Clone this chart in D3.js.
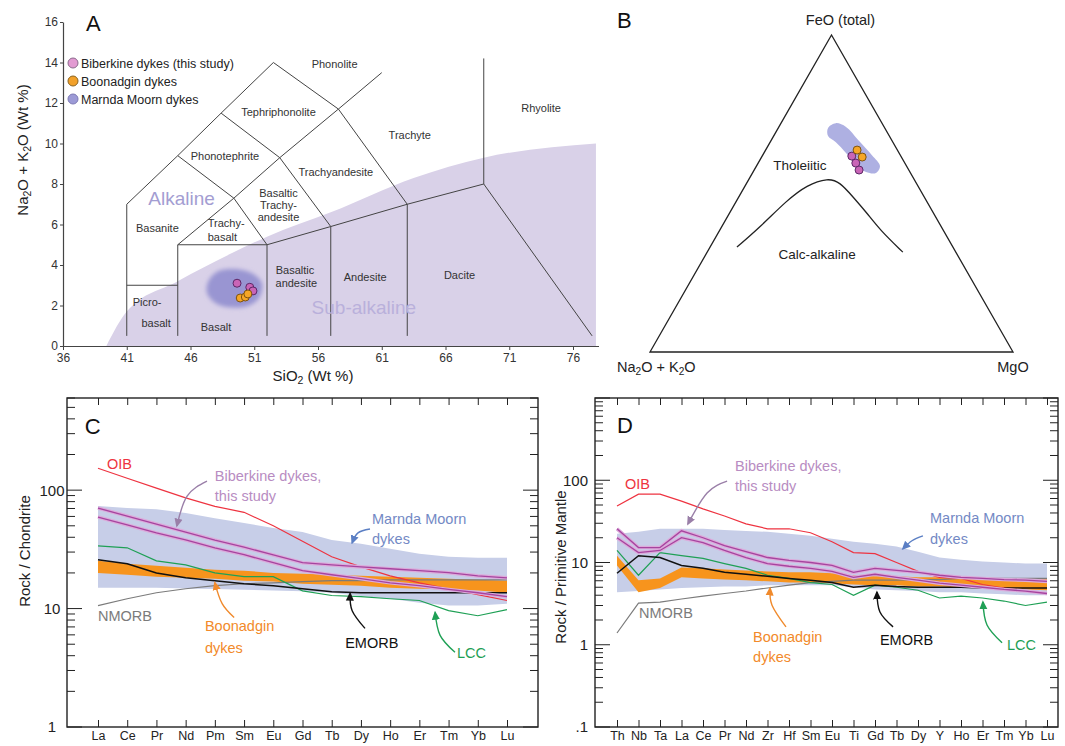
<!DOCTYPE html>
<html>
<head>
<meta charset="utf-8">
<script src="https://cdn.jsdelivr.net/npm/d3@7"></script>
<style>
body { margin: 0; background: #fff; }
</style>
</head>
<body>
<script>
// ---------------- data ----------------
// A: TAS diagram (SiO2 wt%, Na2O+K2O wt%)
var tasTicksX = [36, 41, 46, 51, 56, 61, 66, 71, 76];
var tasTicksY = [0, 2, 4, 6, 8, 10, 12, 14, 16];
var tasFieldLines = [
	[[41, 0.5], [41, 7], [45, 9.4], [48.4, 11.5], [52.5, 14], [57.6, 11.7], [63, 7]],
	[[41, 3], [45, 3]],
	[[45, 0.5], [45, 5], [52, 5], [52, 0.5]],
	[[45, 5], [49.4, 7.3], [52, 5]],
	[[45, 9.4], [49.4, 7.3], [53, 9.3], [57.6, 11.7], [61, 13.5]],
	[[48.4, 11.5], [53, 9.3], [57, 5.9]],
	[[52, 5], [57, 5.9], [63, 7], [69, 8], [77.5, 0.5]],
	[[57, 0.5], [57, 5.9]],
	[[63, 0.5], [63, 7]],
	[[69, 8], [69, 14.2]]
];
var subAlkalineEdge = [[39.4, 0], [41, 1.7], [45, 3.2], [49.3, 4.6], [52, 5.4], [57, 6.6], [63.5, 8.3], [69, 9.3], [77.8, 10.0]];
var marndaTAS = [[47.4, 3.2], [48.2, 3.7], [49.5, 3.8], [50.8, 3.6], [51.6, 3.1], [51.4, 2.4], [50.6, 2.0], [49.3, 1.9], [48.0, 2.1], [47.3, 2.6]];
var biberkineTAS = [[49.65, 3.1], [50.65, 2.9], [50.9, 2.72]];
var boonadginTAS = [[49.9, 2.37], [50.3, 2.42], [50.5, 2.57]];
var tasNames = [
	["Phonolite", 57.3, 13.9], ["Tephriphonolite", 52.9, 11.56], ["Phonotephrite", 48.7, 9.38],
	["Trachyte", 63.2, 10.4], ["Trachyandesite", 57.4, 8.6], ["Rhyolite", 73.5, 11.75],
	["Basaltic", 52.9, 7.56], ["Trachy-", 52.9, 6.96], ["andesite", 52.9, 6.37],
	["Basanite", 43.4, 5.83], ["Trachy-", 48.8, 6.07], ["basalt", 48.5, 5.38],
	["Basaltic", 54.2, 3.75], ["andesite", 54.3, 3.11], ["Andesite", 59.7, 3.41], ["Dacite", 67.1, 3.5],
	["Picro-", 42.6, 2.17], ["basalt", 43.3, 1.14], ["Basalt", 48.0, 0.94]
];
var legendA = ["Biberkine dykes (this study)", "Boonadgin dykes", "Marnda Moorn dykes"];

// B: AFM ternary, points as [FeO, Na2O+K2O, MgO] in %
var calcAlkalineLine = [[33.1, 59.5, 7.4], [39.4, 50.0, 10.6], [47.9, 38.3, 13.8], [52.7, 30.4, 16.9], [54.9, 23.5, 21.6], [53.6, 20.9, 25.5], [48.9, 19.6, 31.5], [43.8, 18.3, 37.9], [38.5, 17.4, 44.1], [31.5, 14.6, 53.9]];
var marndaAFM = [[70.7, 15.6, 13.7], [72.2, 12.7, 15.1], [71.0, 10.5, 18.5], [66.9, 9.2, 23.9], [62.1, 7.8, 30.1], [58.7, 7.3, 34.0], [56.5, 9.5, 34.0], [56.8, 12.1, 31.1], [59.0, 13.8, 27.2], [62.8, 14.6, 22.6], [66.2, 15.7, 18.1], [68.1, 16.9, 15.0]];
var biberkineAFM = [[61.8, 13.5, 24.7], [59.6, 13.5, 26.9], [57.4, 13.7, 28.9]];
var boonadginAFM = [[63.7, 11.1, 25.2], [61.5, 10.8, 27.7]];

// C: chondrite-normalised REE
var reeC = ["La", "Ce", "Pr", "Nd", "Pm", "Sm", "Eu", "Gd", "Tb", "Dy", "Ho", "Er", "Tm", "Yb", "Lu"];
var oibC = [153, 126, 104, 86, 73, 65, 50, 37, 27.4, 22.5, 18.9, 16.5, 14.7, 13.1, 11.7];
var emorbC = [25.8, 23.9, 20.0, 18.2, 17.2, 16.2, 15.6, 14.7, 13.9, 13.6, 13.6, 13.6, 13.6, 13.6, 13.6];
var nmorbC = [10.6, 12.1, 13.6, 14.7, 15.6, 16.2, 16.5, 16.9, 17.2, 17.2, 17.5, 17.5, 17.5, 17.5, 17.5];
var lccC = [33.8, 32.6, 25.3, 23.4, 20.0, 18.6, 18.6, 14.1, 12.9, 12.6, 12.1, 11.7, 9.6, 8.7, 9.8];
var biberkineC1 = [70.6, 60.4, 51.7, 44.3, 37.9, 33.0, 28.4, 24.4, 23.4, 22.5, 21.7, 20.9, 20.1, 18.9, 18.2];
var biberkineC2 = [59.3, 50.8, 43.5, 38.0, 32.5, 28.5, 24.4, 20.9, 19.3, 17.9, 16.5, 15.6, 14.5, 13.6, 12.6];
var boonadginCHi = [25.3, 23.9, 23.0, 22.1, 21.3, 20.9, 20.0, 19.7, 19.3, 18.9, 18.6, 18.2, 17.9, 17.5, 17.2];
var boonadginCLo = [20.0, 19.3, 18.6, 18.2, 17.9, 17.2, 16.9, 16.2, 15.9, 15.6, 15.0, 14.7, 14.5, 14.2, 13.6];
var marndaCHi = [73.4, 70.6, 69, 64, 58, 52.8, 48, 44.4, 38, 35.2, 32, 29, 27.4, 26.8, 26.8];
var marndaCLo = [15, 15, 15, 14.8, 14.6, 14.4, 14.2, 14, 13.6, 12.8, 12.1, 11.2, 10.6, 10.6, 11.0];
var tickLabelsC = [[100, "100"], [10, "10"], [1, "1"]];

// D: primitive-mantle-normalised trace elements
var traceD = ["Th", "Nb", "Ta", "La", "Ce", "Pr", "Nd", "Zr", "Hf", "Sm", "Eu", "Ti", "Gd", "Tb", "Dy", "Y", "Ho", "Er", "Tm", "Yb", "Lu"];
var oibD = [48.6, 67.8, 67.8, 55.8, 44.8, 36.8, 29.5, 25.7, 25.7, 23.0, 17.9, 13.2, 12.8, 10.0, 7.8, 6.6, 6.4, 5.4, 4.9, 4.5, 4.2];
var emorbD = [7.4, 12.1, 11.5, 9.2, 8.5, 7.6, 7.2, 6.8, 6.4, 6.1, 5.7, 5.0, 5.3, 5.1, 5.0, 5.0, 5.0, 4.9, 4.9, 4.9, 4.9];
var nmorbD = [1.39, 3.2, 3.3, 3.6, 3.9, 4.2, 4.5, 4.9, 5.3, 5.7, 5.9, 6.1, 6.1, 6.1, 6.2, 6.2, 6.4, 6.4, 6.4, 6.4, 6.4];
var lccD = [14.0, 7.0, 13.2, 12.1, 11.2, 9.7, 8.5, 7.0, 6.4, 5.7, 5.4, 4.0, 5.3, 5.0, 4.6, 3.7, 3.9, 3.7, 3.4, 3.0, 3.3];
var biberkineD1 = [25.7, 15.2, 15.2, 24.3, 20.0, 16.0, 13.6, 11.5, 10.6, 10.0, 9.2, 7.6, 8.5, 8.0, 7.6, 7.0, 6.6, 6.4, 6.2, 6.1, 5.9];
var biberkineD2 = [20.0, 13.2, 14.0, 20.0, 17.4, 14.0, 11.5, 9.7, 9.0, 8.5, 7.8, 6.6, 7.2, 6.6, 6.1, 5.6, 5.3, 5.0, 4.7, 4.5, 4.2];
var boonadginDHi = [12.1, 6.1, 6.4, 8.7, 8.5, 8.2, 8.0, 7.8, 7.6, 7.6, 7.4, 7.0, 6.8, 6.8, 6.6, 6.6, 6.6, 6.6, 6.4, 6.4, 6.4];
var boonadginDLo = [9.2, 4.35, 4.9, 6.6, 6.4, 6.2, 6.1, 5.9, 5.7, 5.7, 5.6, 5.4, 5.3, 5.3, 5.1, 5.1, 5.0, 4.9, 4.7, 4.7, 4.6];
var marndaDHi = [22.3, 23.6, 25.7, 25.7, 25.7, 24.9, 24.2, 23.6, 22.3, 21.1, 19.4, 17.9, 16.9, 15.6, 13.5, 11.5, 10.8, 10.3, 10.0, 9.7, 9.7];
var marndaDLo = [4.35, 4.5, 4.7, 4.9, 5.0, 5.1, 5.1, 5.3, 5.3, 5.3, 5.3, 5.0, 4.7, 4.6, 4.5, 4.35, 4.35, 4.2, 4.1, 4.0, 4.0];
var tickLabelsD = [[100, "100"], [10, "10"], [1, "1"], [0.1, ".1"]];

// ---------------- setup ----------------
var FONT = "'Liberation Sans', Arial, Helvetica, sans-serif";
var C_OIB = "#ee3340", C_BIB = "#a6449f", C_BIBTXT = "#b88cc2", C_MM = "#c7cee8", C_MMTXT = "#7389c5",
	C_BOON = "#f7941d", C_LCC = "#1fa055", C_NM = "#7b7b7b";

var svg = d3.select("body").append("svg")
	.attr("width", 1065).attr("height", 746)
	.style("font-family", FONT);
var defs = svg.append("defs");
defs.append("filter").attr("id", "soft").attr("x", "-20%").attr("y", "-20%").attr("width", "140%").attr("height", "140%")
	.append("feGaussianBlur").attr("stdDeviation", 2.2);

function arrowMarker(id, color) {
	defs.append("marker").attr("id", id)
		.attr("viewBox", "0 0 10 10").attr("refX", 8).attr("refY", 5)
		.attr("markerWidth", 9).attr("markerHeight", 9)
		.attr("markerUnits", "userSpaceOnUse").attr("orient", "auto")
		.append("path").attr("d", "M0,0.5 L10,5 L0,9.5 Z").attr("fill", color);
}

function subText(sel, parts) {
	// parts: [text, isSub, backUp]
	parts.forEach(function(p) {
		var t = sel.append("tspan").text(p[0]);
		if (p[1]) t.attr("dy", 3).attr("font-size", "0.7em");
		else if (p[2]) t.attr("dy", -3);
	});
}

/*
 A: TAS
*/
var xA = d3.scaleLinear().domain([36, 78]).range([63, 598.5]);
var yA = d3.scaleLinear().domain([0, 16]).range([346, 22]);
var gA = svg.append("g");
var lineA = d3.line().x(function(d) { return xA(d[0]); }).y(function(d) { return yA(d[1]); });

gA.append("path").datum(subAlkalineEdge)
	.attr("d", d3.area().x(function(d) { return xA(d[0]); }).y0(yA(0)).y1(function(d) { return yA(d[1]); }).curve(d3.curveMonotoneX))
	.attr("fill", "#d9d1e8");
gA.append("path").datum(marndaTAS)
	.attr("d", lineA.curve(d3.curveCatmullRomClosed))
	.attr("fill", "#9995d2").attr("filter", "url(#soft)");
lineA.curve(d3.curveLinear);

gA.selectAll("path.field").data(tasFieldLines).enter().append("path")
	.attr("class", "field").attr("d", lineA)
	.attr("fill", "none").attr("stroke", "#444").attr("stroke-width", 1);

gA.append("text").attr("x", xA(45.3)).attr("y", yA(7.3)).attr("dy", "0.35em")
	.attr("text-anchor", "middle").attr("font-size", 19).attr("fill", "#a39dd2").text("Alkaline");
gA.append("text").attr("x", xA(59.6)).attr("y", yA(1.93)).attr("dy", "0.35em")
	.attr("text-anchor", "middle").attr("font-size", 19).attr("fill", "#b9b0db").text("Sub-alkaline");

gA.selectAll("text.rock").data(tasNames).enter().append("text")
	.attr("class", "rock")
	.attr("x", function(d) { return xA(d[1]); }).attr("y", function(d) { return yA(d[2]); })
	.attr("dy", "0.35em").attr("text-anchor", "middle")
	.attr("font-size", 11).attr("fill", "#333").text(function(d) { return d[0]; });

gA.selectAll("circle.bib").data(biberkineTAS).enter().append("circle")
	.attr("cx", function(d) { return xA(d[0]); }).attr("cy", function(d) { return yA(d[1]); })
	.attr("r", 4).attr("fill", "#c965b6").attr("stroke", "#5c2767").attr("stroke-width", 1);
gA.selectAll("circle.boon").data(boonadginTAS).enter().append("circle")
	.attr("cx", function(d) { return xA(d[0]); }).attr("cy", function(d) { return yA(d[1]); })
	.attr("r", 4).attr("fill", "#f6a626").attr("stroke", "#7d5210").attr("stroke-width", 1);

var axA = gA.append("g").attr("transform", "translate(" + xA(36) + ",0)")
	.call(d3.axisLeft(yA).tickValues(tasTicksY).tickSize(3).tickSizeOuter(0).tickPadding(2));
var axAx = gA.append("g").attr("transform", "translate(0," + yA(0) + ")")
	.call(d3.axisBottom(xA).tickValues(tasTicksX).tickSize(4).tickSizeOuter(0).tickPadding(3));
[axA, axAx].forEach(function(a) {
	a.attr("font-family", FONT).attr("font-size", 12);
	a.select(".domain").attr("stroke", "#444").attr("stroke-width", 1.2);
	a.selectAll(".tick line").attr("stroke", "#444");
	a.selectAll(".tick text").attr("fill", "#333");
});

gA.append("text").attr("x", 86).attr("y", 31).attr("font-size", 22).attr("fill", "#111").text("A");

var legColors = [["#e29ad2", "#8a6a8c"], ["#f2a12a", "#8a6420"], ["#9c9ad6", "#7d7ab5"]];
legendA.forEach(function(t, i) {
	var y = 63 + i * 18;
	gA.append("circle").attr("cx", 73).attr("cy", y).attr("r", 5)
		.attr("fill", legColors[i][0]).attr("stroke", legColors[i][1]).attr("stroke-width", 1);
	gA.append("text").attr("x", 81).attr("y", y + 4.5).attr("font-size", 12.5).attr("fill", "#222").text(t);
});

var tA = gA.append("text").attr("x", 313).attr("y", 381).attr("text-anchor", "middle")
	.attr("font-size", 15).attr("fill", "#222");
subText(tA, [["SiO"], ["2", true], [" (Wt %)", false, true]]);
var tAy = gA.append("text").attr("transform", "translate(28,150) rotate(-90)").attr("text-anchor", "middle")
	.attr("font-size", 15).attr("fill", "#222");
subText(tAy, [["Na"], ["2", true], ["O + K", false, true], ["2", true], ["O (Wt %)", false, true]]);

/*
 B: AFM ternary
*/
var tY = d3.scaleLinear().domain([0, 1]).range([352, 35]);
var tX = d3.scaleLinear().domain([0, 1]).range([650, 1013]);
function tern(d) {
	var s = d[0] + d[1] + d[2], F = d[0] / s, M = d[2] / s;
	return [tX(M + F / 2), tY(F)];
}
var gB = svg.append("g");
var lineB = d3.line().x(function(d) { return tern(d)[0]; }).y(function(d) { return tern(d)[1]; });

gB.append("path").datum([[100, 0, 0], [0, 100, 0], [0, 0, 100]])
	.attr("d", function(d) { return lineB(d) + "Z"; })
	.attr("fill", "none").attr("stroke", "#222").attr("stroke-width", 1.3);
gB.append("path").datum(marndaAFM)
	.attr("d", lineB.curve(d3.curveCatmullRomClosed))
	.attr("fill", "#a5a7df").attr("opacity", 0.9);
lineB.curve(d3.curveBasis);
gB.append("path").datum(calcAlkalineLine).attr("d", lineB)
	.attr("fill", "none").attr("stroke", "#222").attr("stroke-width", 1.3);

gB.selectAll("circle.bib").data(biberkineAFM).enter().append("circle")
	.attr("cx", function(d) { return tern(d)[0]; }).attr("cy", function(d) { return tern(d)[1]; })
	.attr("r", 4).attr("fill", "#c965b6").attr("stroke", "#5c2767");
gB.selectAll("circle.boon").data(boonadginAFM).enter().append("circle")
	.attr("cx", function(d) { return tern(d)[0]; }).attr("cy", function(d) { return tern(d)[1]; })
	.attr("r", 4).attr("fill", "#f6a626").attr("stroke", "#7d5210");

gB.append("text").attr("x", 617).attr("y", 28).attr("font-size", 22).attr("fill", "#111").text("B");
gB.append("text").attr("x", tX(0.5) + 9).attr("y", 25).attr("text-anchor", "middle")
	.attr("font-size", 14.5).attr("fill", "#222").text("FeO (total)");
var nk = gB.append("text").attr("x", 617).attr("y", 372).attr("font-size", 14.5).attr("fill", "#222");
subText(nk, [["Na"], ["2", true], ["O + K", false, true], ["2", true], ["O", false, true]]);
gB.append("text").attr("x", tX(1)).attr("y", 372).attr("text-anchor", "middle")
	.attr("font-size", 14.5).attr("fill", "#222").text("MgO");
gB.append("text").attr("x", tern([59, 29.2, 11.8])[0]).attr("y", tern([59, 29.2, 11.8])[1] + 5)
	.attr("text-anchor", "middle").attr("font-size", 13.5).attr("fill", "#222").text("Tholeiitic");
gB.append("text").attr("x", tern([30.9, 38.5, 30.6])[0]).attr("y", tern([30.9, 38.5, 30.6])[1] + 5)
	.attr("text-anchor", "middle").attr("font-size", 13.5).attr("fill", "#222").text("Calc-alkaline");

/*
 C & D: spider diagrams
*/
function spider(p) {
	var n = p.elems.length;
	var x = d3.scalePoint().domain(p.elems).range([p.xFirst, p.xLast]);
	var xi = d3.scaleLinear().domain([0, n - 1]).range([p.xFirst, p.xLast]);
	var y = d3.scaleLog().domain(p.yDomain).range([p.bottom, p.top]);
	var g = svg.append("g");

	var area = d3.area().x(function(d, i) { return xi(i); })
		.y0(function(d) { return y(d[0]); }).y1(function(d) { return y(d[1]); });
	var line = d3.line().x(function(d, i) { return xi(i); }).y(function(d) { return y(d); });

	g.append("path").datum(d3.zip(p.mmLo, p.mmHi)).attr("d", area).attr("fill", C_MM);
	g.append("path").datum(d3.zip(p.boonLo, p.boonHi)).attr("d", area).attr("fill", C_BOON);

	var series = [
		[p.nmorb, C_NM, 1.2], [p.lcc, C_LCC, 1.2], [p.emorb, "#111", 1.5], [p.oib, C_OIB, 1.2]
	];
	series.forEach(function(s) {
		g.append("path").datum(s[0]).attr("d", line)
			.attr("fill", "none").attr("stroke", s[1]).attr("stroke-width", s[2]);
	});
	[p.bib1, p.bib2].forEach(function(s) {
		g.append("path").datum(s).attr("d", line)
			.attr("fill", "none").attr("stroke", "#dcaadb").attr("stroke-width", 3.6);
		g.append("path").datum(s).attr("d", line)
			.attr("fill", "none").attr("stroke", C_BIB).attr("stroke-width", 1.3);
	});

	// frame + ticks
	g.append("rect").attr("x", p.left).attr("y", p.top)
		.attr("width", p.right - p.left).attr("height", p.bottom - p.top)
		.attr("fill", "none").attr("stroke", "#222").attr("stroke-width", 1.4);

	var bx = g.append("g").attr("transform", "translate(0," + p.bottom + ")")
		.call(d3.axisBottom(x).tickSize(-7).tickSizeOuter(0).tickPadding(p.labelPad));
	var tx = g.append("g").attr("transform", "translate(0," + p.top + ")")
		.call(d3.axisTop(x).tickSize(-7).tickSizeOuter(0).tickFormat(""));
	[bx, tx].forEach(function(a) {
		a.attr("font-family", FONT).attr("font-size", p.labelSize);
		a.select(".domain").remove();
		a.selectAll(".tick line").attr("stroke", "#222");
		a.selectAll(".tick text").attr("fill", "#222");
	});

	y.ticks().forEach(function(v) {
		var l = Math.log10(v), major = Math.abs(l - Math.round(l)) < 1e-6;
		if (y(v) < p.top - 0.5) return;
		var len = major ? 15 : 8;
		g.append("line").attr("x1", p.left).attr("x2", p.left + len)
			.attr("y1", y(v)).attr("y2", y(v)).attr("stroke", "#222").attr("stroke-width", 1);
		g.append("line").attr("x1", p.right).attr("x2", p.right - len)
			.attr("y1", y(v)).attr("y2", y(v)).attr("stroke", "#222").attr("stroke-width", 1);
	});
	p.tickLabels.forEach(function(t) {
		g.append("text").attr("x", p.tickX).attr("y", y(t[0])).attr("dy", "0.36em")
			.attr("text-anchor", p.tickAnchor).attr("font-size", 15).attr("fill", "#222").text(t[1]);
	});
	g.append("text").attr("transform", "translate(" + p.titleX + "," + p.titleY + ") rotate(-90)")
		.attr("text-anchor", "middle").attr("font-size", 15).attr("fill", "#222").text(p.title);

	g.append("text").attr("x", xi(p.letter[1])).attr("y", y(p.letter[2]))
		.attr("font-size", 22).attr("fill", "#111").text(p.letter[0]);

	p.notes.forEach(function(t) {
		g.append("text").attr("x", xi(t[1])).attr("y", y(t[2]))
			.attr("font-size", 14.5).attr("fill", t[3]).text(t[0]);
	});
	var arrowLine = d3.line().x(function(d) { return xi(d[0]); }).y(function(d) { return y(d[1]); })
		.curve(d3.curveNatural);
	p.arrows.forEach(function(a, i) {
		var id = "ah" + p.letter[0] + i;
		arrowMarker(id, a[0]);
		g.append("path").datum(a[1]).attr("d", arrowLine)
			.attr("fill", "none").attr("stroke", a[0]).attr("stroke-width", 1.4)
			.attr("marker-end", "url(#" + id + ")");
	});
}

spider({
	elems: reeC, xFirst: 98, xLast: 507, left: 67, right: 538, top: 398, bottom: 727,
	yDomain: [1, 600], labelPad: 4, labelSize: 12.5,
	oib: oibC, emorb: emorbC, nmorb: nmorbC, lcc: lccC, bib1: biberkineC1, bib2: biberkineC2,
	boonLo: boonadginCLo, boonHi: boonadginCHi, mmLo: marndaCLo, mmHi: marndaCHi,
	tickLabels: tickLabelsC, tickX: 52, tickAnchor: "middle",
	title: "Rock / Chondrite", titleX: 30, titleY: 551,
	letter: ["C", -0.45, 300],
	notes: [
		["OIB", 0.31, 150, C_OIB],
		["Biberkine dykes,", 4.0, 119, C_BIBTXT], ["this study", 4.0, 81, C_BIBTXT],
		["Marnda Moorn", 9.38, 51.8, C_MMTXT], ["dykes", 9.38, 35.2, C_MMTXT],
		["NMORB", 0, 7.93, C_NM],
		["Boonadgin", 3.66, 6.41, "#f28a2a"], ["dykes", 3.66, 4.19, "#f28a2a"],
		["EMORB", 8.46, 4.61, "#111"],
		["LCC", 12.29, 3.8, C_LCC]
	],
	arrows: [
		["#9a7fa8", [[3.73, 119], [3.05, 89], [2.70, 50]]],
		["#5b7fc4", [[9.31, 47], [8.9, 43.6], [8.7, 36]]],
		["#f08a2c", [[4.66, 8.4], [4.25, 11], [4.0, 16.5]]],
		["#111", [[9.14, 6.8], [8.7, 9.6], [8.63, 13.4]]],
		[C_LCC, [[12.22, 4.27], [11.71, 5.94], [11.54, 9.26]]]
	]
});

spider({
	elems: traceD, xFirst: 617, xLast: 1047, left: 595, right: 1058, top: 398, bottom: 727,
	yDomain: [0.1, 1000], labelPad: 4, labelSize: 12.5,
	oib: oibD, emorb: emorbD, nmorb: nmorbD, lcc: lccD, bib1: biberkineD1, bib2: biberkineD2,
	boonLo: boonadginDLo, boonHi: boonadginDHi, mmLo: marndaDLo, mmHi: marndaDHi,
	tickLabels: tickLabelsD, tickX: 588, tickAnchor: "end",
	title: "Rock / Primitive Mantle", titleX: 566, titleY: 567,
	letter: ["D", 0, 379],
	notes: [
		["OIB", 0.37, 77.9, C_OIB],
		["Biberkine dykes,", 5.49, 128, C_BIBTXT], ["this study", 5.49, 73.7, C_BIBTXT],
		["Marnda Moorn", 14.56, 30.3, C_MMTXT], ["dykes", 14.56, 16.9, C_MMTXT],
		["NMORB", 1.02, 2.11, C_NM],
		["Boonadgin", 6.33, 1.087, "#f28a2a"], ["dykes", 6.33, 0.624, "#f28a2a"],
		["EMORB", 12.23, 1.0, "#111"],
		["LCC", 18.14, 0.87, C_LCC]
	],
	arrows: [
		["#9a7fa8", [[5.12, 97.4], [4.19, 69.9], [3.3, 29.5]]],
		["#5b7fc4", [[14.23, 21.1], [13.72, 18.4], [13.3, 14.7]]],
		["#f08a2c", [[7.86, 1.65], [7.21, 3.03], [7.12, 4.86]]],
		["#111", [[12.84, 1.65], [12.23, 2.5], [12.09, 4.35]]],
		[C_LCC, [[17.91, 1.06], [17.21, 1.74], [17.02, 3.3]]]
	]
});
</script>
</body>
</html>
